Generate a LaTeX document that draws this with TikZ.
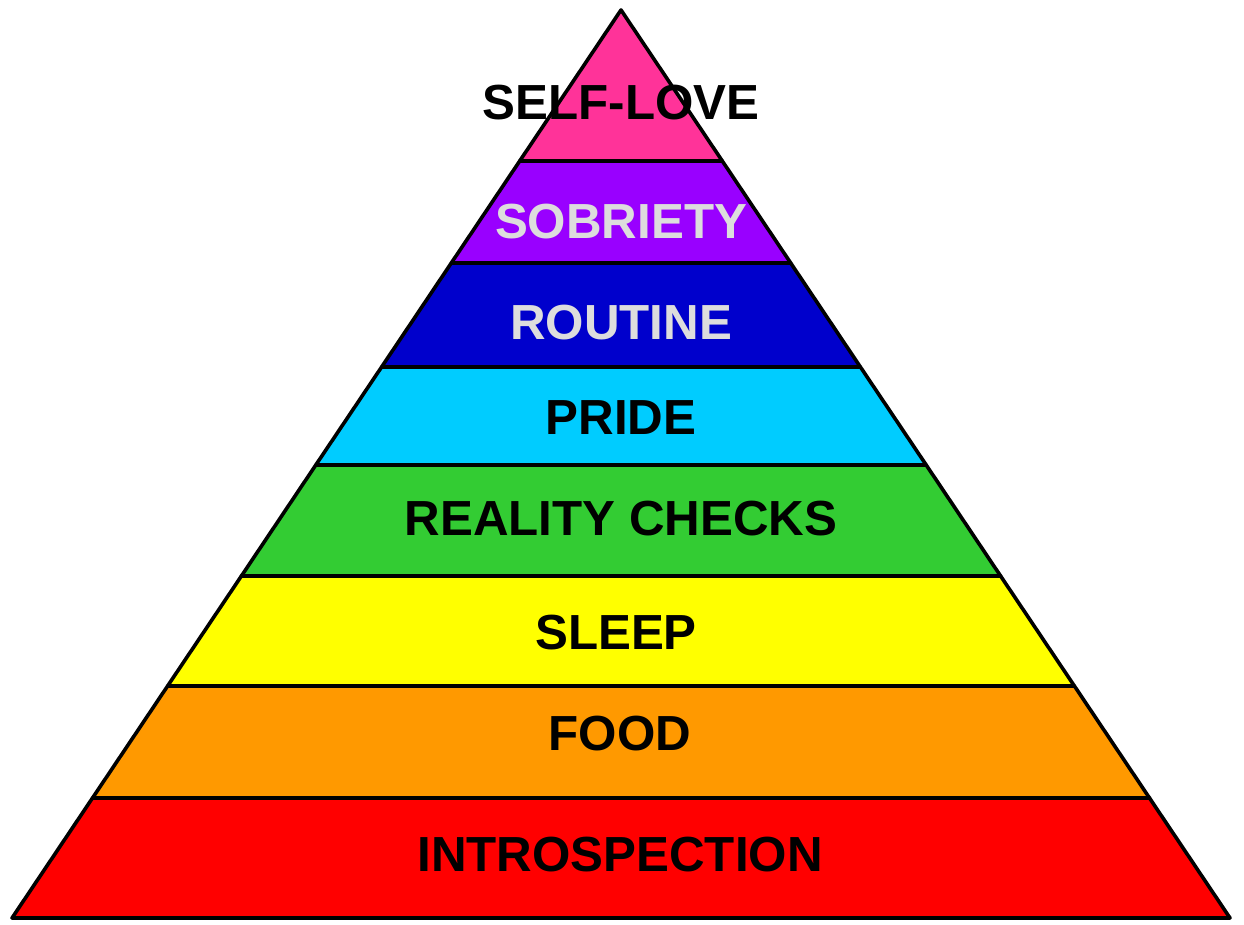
\documentclass[tikz,border=0pt]{standalone}
\usepackage{fontspec}
\setmainfont{Liberation Sans}
\begin{document}
\begin{tikzpicture}[x=1pt,y=-1pt,
  band/.style={draw=black,line width=3.6pt,line join=round},
  lbl/.style={font=\fontsize{49.3}{51}\selectfont\bfseries,inner sep=0pt,anchor=center},
  lightlbl/.style={lbl,text=lightgray},
  darklbl/.style={lbl,text=black}]
\definecolor{cpink}{HTML}{FF3399}
\definecolor{cpurple}{HTML}{9900FF}
\definecolor{cblue}{HTML}{0000CC}
\definecolor{ccyan}{HTML}{00CCFF}
\definecolor{cgreen}{HTML}{33CC33}
\definecolor{cyellow}{HTML}{FFFF00}
\definecolor{corange}{HTML}{FF9900}
\definecolor{cred}{HTML}{FF0000}
\definecolor{lightgray}{HTML}{DDDDDD}
\useasboundingbox (0,0) rectangle (1244,925);
% bands
\filldraw[band,fill=cred]    (92.5,798) -- (1149.5,798) -- (1230,918) -- (12,918) -- cycle;
\filldraw[band,fill=corange] (167.6,686) -- (1074.4,686) -- (1149.5,798) -- (92.5,798) -- cycle;
\filldraw[band,fill=cyellow] (241.4,576) -- (1000.6,576) -- (1074.4,686) -- (167.6,686) -- cycle;
\filldraw[band,fill=cgreen]  (315.8,465) -- (926.2,465) -- (1000.6,576) -- (241.4,576) -- cycle;
\filldraw[band,fill=ccyan]   (381.6,367) -- (860.4,367) -- (926.2,465) -- (315.8,465) -- cycle;
\filldraw[band,fill=cblue]   (451.3,263) -- (790.7,263) -- (860.4,367) -- (381.6,367) -- cycle;
\filldraw[band,fill=cpurple] (519.7,161) -- (722.3,161) -- (790.7,263) -- (451.3,263) -- cycle;
\filldraw[band,fill=cpink]   (621,10) -- (722.3,161) -- (519.7,161) -- cycle;
% labels
\node[darklbl]  (selflove) at (621,103) {SELF-LOVE};
\node[lightlbl] (sobriety) at (621,222) {SOBRIETY};
\node[lightlbl] (routine)  at (621,323) {ROUTINE};
\node[darklbl]  (pride)    at (621,418) {PRIDE};
\node[darklbl]  (reality)  at (621,519) {REALITY CHECKS};
\node[darklbl]  (sleep)    at (616,633) {SLEEP};
\node[darklbl]  (food)     at (620,734) {FOOD};
\node[darklbl]  (intro)    at (620,855) {INTROSPECTION};
\end{tikzpicture}
\end{document}
